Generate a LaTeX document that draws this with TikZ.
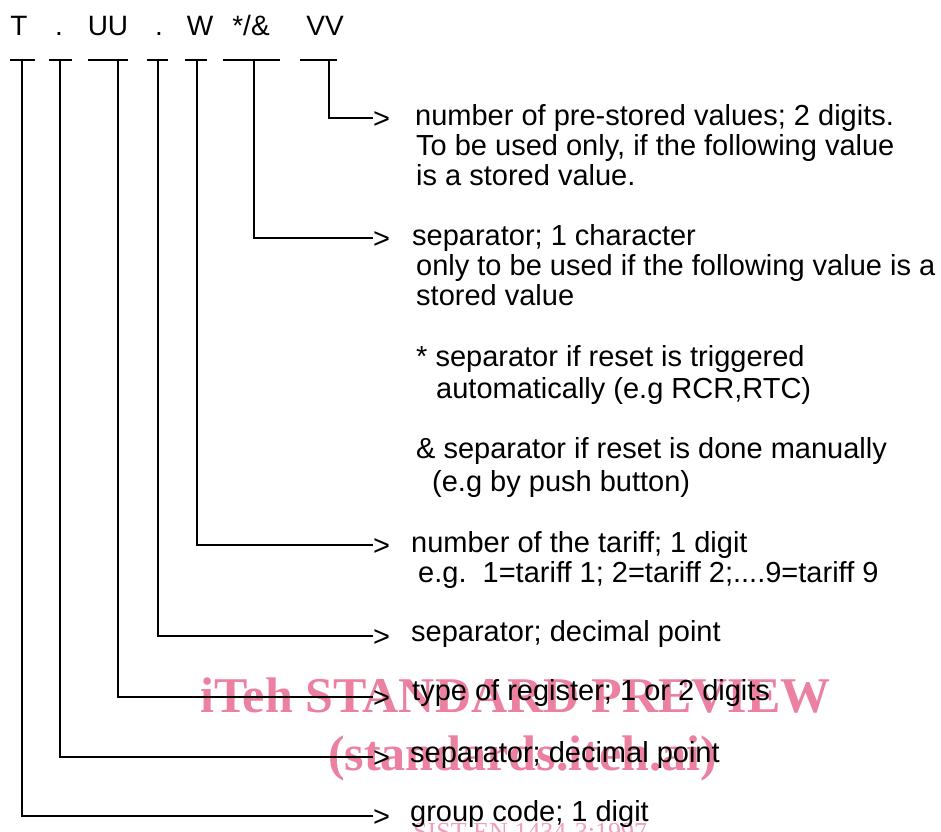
\documentclass[tikz,border=0pt]{standalone}
\usepackage{fontspec}
\setmainfont{Liberation Sans}
\newfontfamily\wmfont{Liberation Serif}
\definecolor{wmpink}{RGB}{236,128,160}
\begin{document}
\begin{tikzpicture}[x=1pt,y=-1pt,
  lab/.style={font=\fontsize{28}{30}\selectfont, inner sep=0pt, anchor=base},
  bar/.style={line width=2pt},
  conn/.style={line width=2pt},
  gt/.style={font=\fontsize{29}{30}\selectfont, inner sep=0pt, anchor=base west},
  txt/.style={font=\fontsize{29}{30}\selectfont, inner sep=0pt, anchor=base west},
  wm/.style={text=wmpink, font=\wmfont\bfseries\fontsize{50}{50}\selectfont, inner sep=0pt, anchor=base west}]
\useasboundingbox (0,0) rectangle (941,831);
\fill[white] (0,0) rectangle (941,831);
\begin{scope}
\clip (0,0) rectangle (941,831);
% watermark
\node[wm] (wm1) at (200,712) {iTeh STANDARD PREVIEW};
\node[wm] (wm2) at (328,770) {(standards.iteh.ai)};
\node[wm, text=wmpink!75, font=\wmfont\fontsize{26}{26}\selectfont] (wm3) at (413,840) {SIST EN 1434-3:1997};

% top labels
\node[lab] (lT) at (19,35) {T};
\node[lab] (lP1) at (59,35) {.};
\node[lab] (lU) at (108,35) {UU};
\node[lab] (lP2) at (159,35) {.};
\node[lab] (lW) at (200,35) {W};
\node[lab] (lS) at (251,35) {*/\&};
\node[lab] (lV) at (325,35) {VV};

% bars
\draw[bar] (10,60) -- (35,60);
\draw[bar] (49,60) -- (72,60);
\draw[bar] (88,60) -- (128,60);
\draw[bar] (147,60) -- (168,60);
\draw[bar] (185,60) -- (207,60);
\draw[bar] (223,60) -- (280,60);
\draw[bar] (300,60) -- (337,60);
\coordinate (bT) at (22,60);
\coordinate (bP1) at (60,60);
\coordinate (bU) at (118,60);
\coordinate (bP2) at (158,60);
\coordinate (bW) at (197,60);
\coordinate (bS) at (254,60);
\coordinate (bV) at (329,60);

% arrow heads (">" characters)
\node[gt] (gV) at (373,128) {>};
\node[gt] (gS) at (373,248) {>};
\node[gt] (gW) at (373,555) {>};
\node[gt] (gP2) at (373,646) {>};
\node[gt] (gU) at (373,707) {>};
\node[gt] (gP1) at (373,767) {>};
\node[gt] (gT) at (373,826) {>};

% connectors
\draw[conn] (bV) |- ([yshift=10pt]gV.base west);
\draw[conn] (bS) |- ([yshift=10pt]gS.base west);
\draw[conn] (bW) |- ([yshift=10pt]gW.base west);
\draw[conn] (bP2) |- ([yshift=10pt]gP2.base west);
\draw[conn] (bU) |- ([yshift=10pt]gU.base west);
\draw[conn] (bP1) |- ([yshift=10pt]gP1.base west);
\draw[conn] (bT) |- ([yshift=10pt]gT.base west);

% texts
\node[txt] (v1) at (415,125) {number of pre-stored values; 2 digits.};
\node[txt] (v2) at (416,155) {To be used only, if the following value};
\node[txt] (v3) at (416,185) {is a stored value.};
\node[txt] (s1) at (412,245) {separator; 1 character};
\node[txt] (s2) at (416,275) {only to be used if the following value is a};
\node[txt] (s3) at (416,305) {stored value};
\node[txt] (s4) at (416,366) {* separator if reset is triggered};
\node[txt] (s5) at (436,398) {automatically (e.g RCR,RTC)};
\node[txt] (s6) at (416,458) {\& separator if reset is done manually};
\node[txt] (s7) at (432,491) {(e.g by push button)};
\node[txt] (w1) at (411,552) {number of the tariff; 1 digit};
\node[txt] (w2) at (418,582) {e.g.\ \ 1=tariff 1; 2=tariff 2;....9=tariff 9};
\node[txt] (p2) at (411,641) {separator; decimal point};
\node[txt] (u1) at (412,700) {type of register; 1 or 2 digits};
\node[txt] (p1) at (410,762) {separator; decimal point};
\node[txt] (t1) at (410,821) {group code; 1 digit};
\end{scope}
\end{tikzpicture}
\end{document}
